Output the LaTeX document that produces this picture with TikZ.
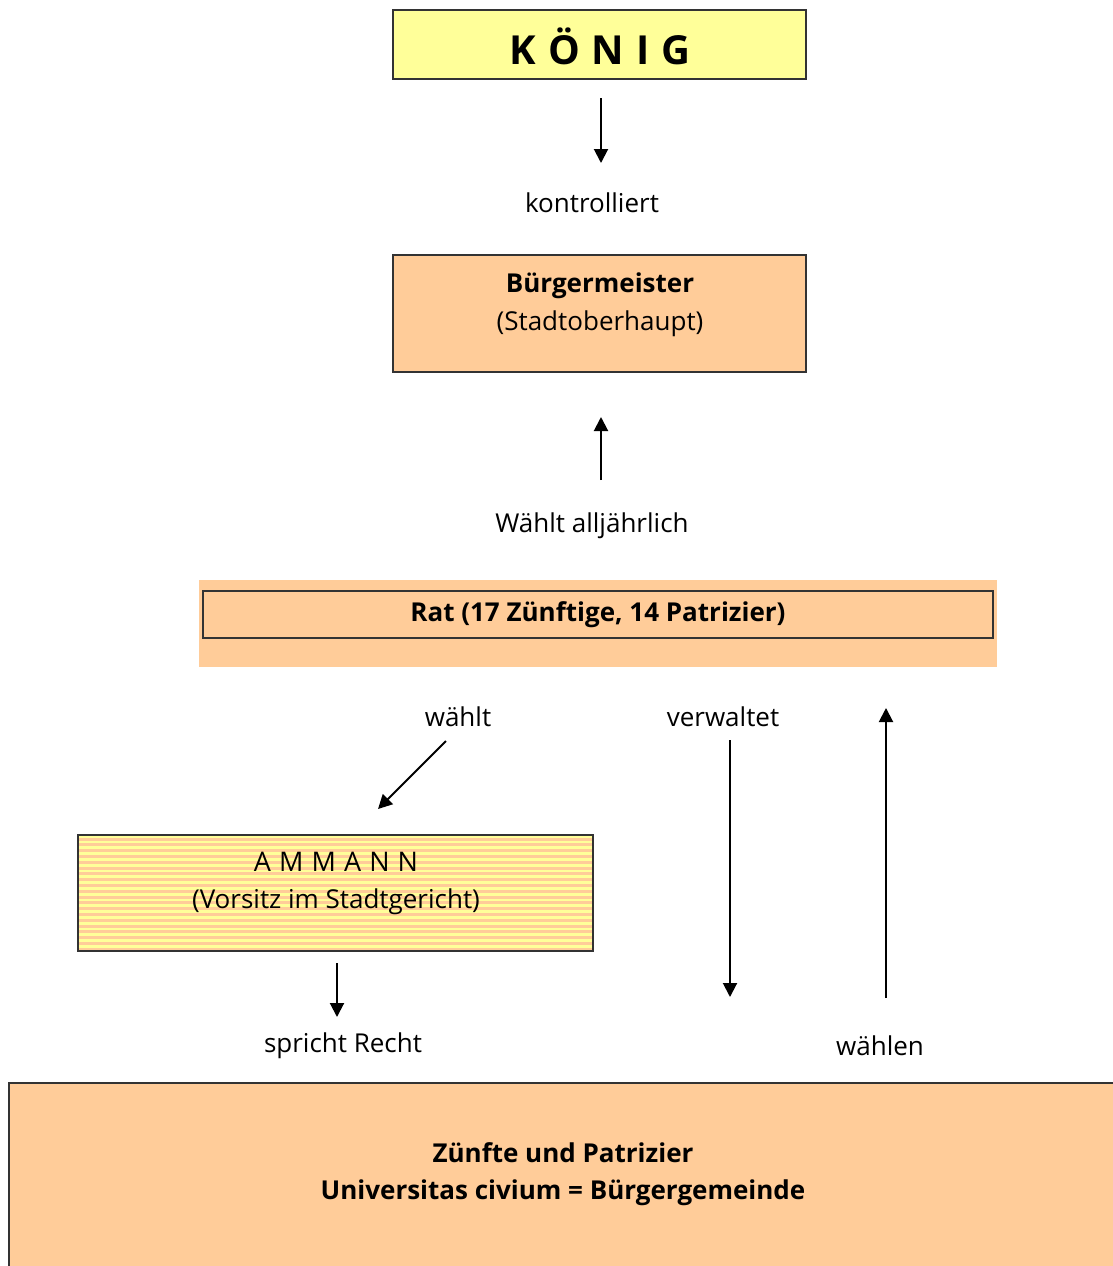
\documentclass[tikz,border=0pt]{standalone}
\usepackage{fontspec}
\setmainfont{Open Sans}
\usetikzlibrary{arrows.meta}
\definecolor{kyellow}{HTML}{FFFF99}
\definecolor{korange}{HTML}{FFCC99}
\tikzset{
  box/.style={draw=black!80, line width=1.1pt, inner sep=0pt},
  lbl/.style={font=\fontsize{26}{30}\selectfont, inner sep=0pt, anchor=center},
  blbl/.style={lbl, font=\fontsize{26}{30}\selectfont\bfseries, yshift=-2pt},
  arr/.style={line width=2pt, -{Triangle[length=14pt,width=14pt]}},
}
\begin{document}
\begin{tikzpicture}[x=1pt,y=-1pt]
\useasboundingbox (0,0) rectangle (1113,1266);
% Koenig
\node[box, fill=kyellow, minimum width=413pt, minimum height=69pt] (koenig) at (599.5,44.5) {};
\node[font=\fontsize{40}{44}\selectfont\bfseries, inner sep=0pt] (koenigt) at (600,46) {K\hspace{0.3em}Ö\hspace{0.3em}N\hspace{0.3em}I\hspace{0.3em}G};
\coordinate (a1s) at (601,98);
\coordinate (a1e) at (601,163);
\draw[arr] (a1s) -- (a1e);
\node[lbl] (kontr) at (592,203) {kontrolliert};
% Buergermeister
\node[box, fill=korange, minimum width=413pt, minimum height=117pt] (bm) at (599.5,313.5) {};
\node[blbl] (bmt) at (600,284) {Bürgermeister};
\node[lbl] (bms) at (600,324) {(Stadtoberhaupt)};
\coordinate (a2s) at (601,480);
\coordinate (a2e) at (601,417);
\draw[arr] (a2s) -- (a2e);
\node[lbl] (waehlt1) at (592,526) {Wählt alljährlich};
% Rat
\node[fill=korange, minimum width=798pt, minimum height=87pt, inner sep=0pt] (ratbg) at (598,623.5) {};
\node[box, minimum width=790pt, minimum height=47pt] (rat) at (598,614.5) {};
\node[blbl] (ratt) at (598,613) {Rat (17 Zünftige, 14 Patrizier)};
% labels and arrows
\node[lbl] (waehlt2) at (458,717) {wählt};
\coordinate (a3s) at (446,741);
\coordinate (a3e) at (378,809);
\draw[arr] (a3s) -- (a3e);
\node[lbl] (verw) at (723,717) {verwaltet};
\coordinate (a4s) at (730,740);
\coordinate (a4e) at (730,997);
\draw[arr] (a4s) -- (a4e);
\coordinate (a5s) at (886,998);
\coordinate (a5e) at (886,708);
\draw[arr] (a5s) -- (a5e);
\node[lbl] (waehlen) at (880,1046) {wählen};
% Ammann (striped)
\fill[kyellow] (78,835) rectangle (593,951);
\foreach \i in {0,...,19} {
  \fill[korange] (78,{837.5+5.8*\i}) rectangle (593,{840.5+5.8*\i});
}
\node[box, minimum width=515pt, minimum height=116pt] (ammann) at (335.5,893) {};
\node[lbl, font=\fontsize{27}{30}\selectfont] (ammannt) at (336,862) {A\hspace{0.3em}M\hspace{0.3em}M\hspace{0.3em}A\hspace{0.3em}N\hspace{0.3em}N};
\node[lbl] (ammanns) at (336,902) {(Vorsitz im Stadtgericht)};
\coordinate (a6s) at (337,963);
\coordinate (a6e) at (337,1017);
\draw[arr] (a6s) -- (a6e);
\node[lbl] (recht) at (343,1046) {spricht Recht};
% Buergergemeinde
\fill[korange] (9,1083) rectangle (1113,1266);
\draw[black!80, line width=1.1pt] (9,1266) -- (9,1083) -- (1113,1083);
\node[blbl] (zt1) at (563,1151) {Zünfte und Patrizier};
\node[blbl] (zt2) at (563,1191) {Universitas civium = Bürgergemeinde};
\end{tikzpicture}
\end{document}
